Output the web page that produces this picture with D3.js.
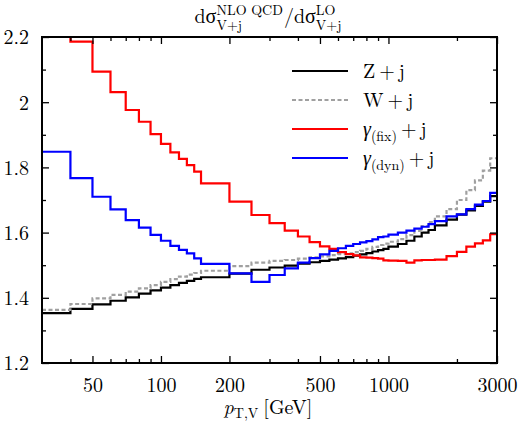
<!DOCTYPE html>
<html><head><meta charset="utf-8">
<script src="https://cdn.jsdelivr.net/npm/d3@7"></script>
<style>body{margin:0;background:#fff;} svg{display:block;}</style>
</head><body>
<svg id="c" width="521" height="430"></svg>
<script>
// ---- data ----
const binEdges = [30,40,50,60,70,80,90,100,110,120,130,140,150,200,250,300,350,400,450,500,550,600,650,700,750,800,850,900,950,1000,1100,1200,1300,1400,1500,1600,1800,2000,2200,2400,2600,2800,3000];
const zj   = [1.353,1.366,1.380,1.391,1.401,1.413,1.423,1.431,1.439,1.446,1.452,1.458,1.463,1.474,1.486,1.493,1.499,1.505,1.509,1.513,1.517,1.521,1.525,1.529,1.533,1.537,1.542,1.546,1.550,1.557,1.565,1.575,1.588,1.600,1.608,1.622,1.640,1.655,1.668,1.682,1.695,1.712];
const wj   = [1.363,1.381,1.398,1.409,1.419,1.429,1.439,1.449,1.457,1.465,1.471,1.476,1.483,1.497,1.508,1.513,1.516,1.520,1.524,1.527,1.531,1.534,1.536,1.540,1.544,1.550,1.556,1.562,1.566,1.572,1.580,1.592,1.605,1.620,1.632,1.650,1.672,1.700,1.730,1.760,1.790,1.828];
const gfix = [2.300,2.186,2.094,2.031,1.976,1.940,1.902,1.872,1.846,1.826,1.807,1.787,1.751,1.695,1.654,1.629,1.606,1.588,1.571,1.558,1.550,1.540,1.534,1.530,1.524,1.523,1.522,1.520,1.515,1.514,1.513,1.508,1.515,1.516,1.516,1.517,1.528,1.541,1.557,1.567,1.576,1.595];
const gdyn = [1.848,1.767,1.710,1.671,1.638,1.615,1.593,1.575,1.559,1.547,1.536,1.521,1.504,1.475,1.449,1.470,1.490,1.508,1.522,1.533,1.544,1.552,1.559,1.565,1.570,1.574,1.579,1.586,1.588,1.594,1.600,1.606,1.612,1.618,1.626,1.635,1.650,1.656,1.672,1.686,1.697,1.722];
const seriesNames = ["Z+j","W+j","γ(fix)+j","γ(dyn)+j"];
const xMajorTicks = [50,100,200,500,1000,3000];
const xMinorTicks = [40,60,70,80,90,300,400,600,700,800,900,2000];
const yMajorTicks = [1.2,1.4,1.6,1.8,2.0,2.2];
const yMinorTicks = [1.3,1.5,1.7,1.9,2.1];

const FONT = '"Latin Modern Roman","Liberation Serif"';

// ---- layout ----
const svg = d3.select("#c");
const M = {l:42, r:497, t:37, b:363};
const x = d3.scaleLog().domain([30,3000]).range([M.l, M.r]);
const y = d3.scaleLinear().domain([1.2,2.2]).range([M.b, M.t]);

svg.append("defs").append("clipPath").attr("id","clip")
  .append("rect").attr("x",M.l).attr("y",M.t).attr("width",M.r-M.l).attr("height",M.b-M.t);

// ---- series ----
const series = [
  {vals:zj,   color:"#000000", dash:null},
  {vals:wj,   color:"#a0a0a0", dash:"4,2.5"},
  {vals:gfix, color:"#ff0000", dash:null},
  {vals:gdyn, color:"#0000ff", dash:null}
];
const line = d3.line().x(d=>x(d[0])).y(d=>y(d[1])).curve(d3.curveStepAfter);
const gLines = svg.append("g").attr("clip-path","url(#clip)");
series.forEach(s=>{
  const pts = binEdges.map((e,i)=>[e, s.vals[Math.min(i, s.vals.length-1)]]);
  gLines.append("path").attr("d", line(pts)).attr("fill","none")
    .attr("stroke", s.color).attr("stroke-width",2.2)
    .attr("stroke-dasharray", s.dash);
});

// ---- axes ----
function styleAxis(g){ g.select(".domain").remove(); g.selectAll("line").attr("stroke","#000").attr("stroke-width",1.3); }
const fs = 20;
svg.append("g").attr("transform",`translate(0,${M.b})`)
  .call(d3.axisBottom(x).tickValues(xMajorTicks).tickFormat(d3.format("d")).tickSize(-7))
  .call(styleAxis)
  .call(g=>g.selectAll("text").attr("y",29).attr("dy",0).attr("font-size",fs).attr("fill","#000").style("font-family",FONT));
svg.append("g").attr("transform",`translate(0,${M.b})`)
  .call(d3.axisBottom(x).tickValues(xMinorTicks).tickFormat("").tickSize(-4)).call(styleAxis);
svg.append("g").attr("transform",`translate(0,${M.t})`)
  .call(d3.axisTop(x).tickValues(xMajorTicks).tickFormat("").tickSize(-7)).call(styleAxis);
svg.append("g").attr("transform",`translate(0,${M.t})`)
  .call(d3.axisTop(x).tickValues(xMinorTicks).tickFormat("").tickSize(-4)).call(styleAxis);
svg.append("g").attr("transform",`translate(${M.l},0)`)
  .call(d3.axisLeft(y).tickValues(yMajorTicks).tickFormat(d3.format("~g")).tickSize(-7))
  .call(styleAxis)
  .call(g=>g.selectAll("text").attr("x",-13).attr("dy","0.34em").attr("font-size",fs).attr("fill","#000").style("font-family",FONT));
svg.append("g").attr("transform",`translate(${M.l},0)`)
  .call(d3.axisLeft(y).tickValues(yMinorTicks).tickFormat("").tickSize(-4)).call(styleAxis);
svg.append("g").attr("transform",`translate(${M.r},0)`)
  .call(d3.axisRight(y).tickValues(yMajorTicks).tickFormat("").tickSize(-7)).call(styleAxis);
svg.append("g").attr("transform",`translate(${M.r},0)`)
  .call(d3.axisRight(y).tickValues(yMinorTicks).tickFormat("").tickSize(-4)).call(styleAxis);

svg.append("rect").attr("x",M.l).attr("y",M.t).attr("width",M.r-M.l).attr("height",M.b-M.t)
  .attr("fill","none").attr("stroke","#000").attr("stroke-width",2);

// ---- math-like text helper: one <text> per formula, tspans placed absolutely ----
function measure(str, size, italic){
  const t = svg.append("text").style("font-family",FONT).attr("font-size",size)
    .attr("font-style", italic?"italic":"normal").text(str);
  const w = t.node().getComputedTextLength(); t.remove(); return w;
}
function formula(items, anchorX, baseY, align){
  const parts = []; let cx = 0;
  items.forEach(it=>{
    if (it.stack){
      const wa = measure(it.sup, it.fs), wb = measure(it.sub, it.fs);
      parts.push({s:it.sup, x:cx, dy:it.supDy, fs:it.fs});
      parts.push({s:it.sub, x:cx, dy:it.subDy, fs:it.fs});
      cx += Math.max(wa, wb) + (it.after||0);
    } else {
      cx += (it.before||0);
      parts.push({s:it.t, x:cx, dy:it.dy||0, fs:it.fs, italic:it.italic});
      cx += measure(it.t, it.fs, it.italic) + (it.after||0);
    }
  });
  const x0 = align==="middle" ? anchorX - cx/2 : anchorX;
  const t = svg.append("text").style("font-family",FONT).attr("fill","#000");
  parts.forEach(p=>{
    t.append("tspan").attr("x", x0+p.x).attr("y", baseY+p.dy).attr("font-size",p.fs)
      .attr("font-style", p.italic?"italic":"normal").text(p.s);
  });
  return t;
}

// title
formula([
  {t:"dσ", fs:20},
  {stack:true, sup:"NLO QCD", sub:"V+j", fs:14, supDy:-8.5, subDy:6.5, after:1},
  {t:"/dσ", fs:20},
  {stack:true, sup:"LO", sub:"V+j", fs:14, supDy:-8.5, subDy:6.5}
], 268, 23, "middle");

// x label
formula([
  {t:"p", fs:20, italic:true},
  {t:"T,V", fs:14, dy:4},
  {t:"[GeV]", fs:20, before:5}
], 268, 414, "middle");

// legend
const legY = [71,100,129,158];
seriesNames.forEach((name,i)=>{
  const s = series[i];
  svg.append("line").attr("x1",292).attr("x2",348).attr("y1",legY[i]).attr("y2",legY[i])
    .attr("stroke",s.color).attr("stroke-width",2.2).attr("stroke-dasharray",s.dash);
  const m = name.match(/^(.)(\((.*)\))?\+j$/);
  const items = [{t:m[1], fs:20, italic: !!m[2]}];
  if (m[2]) items.push({t:m[2], fs:14, dy:5});
  items.push({t:"+", fs:20, before:4});
  items.push({t:"j", fs:20, before:4});
  formula(items, 363, legY[i]+7, "start");
});
</script>
</body></html>
